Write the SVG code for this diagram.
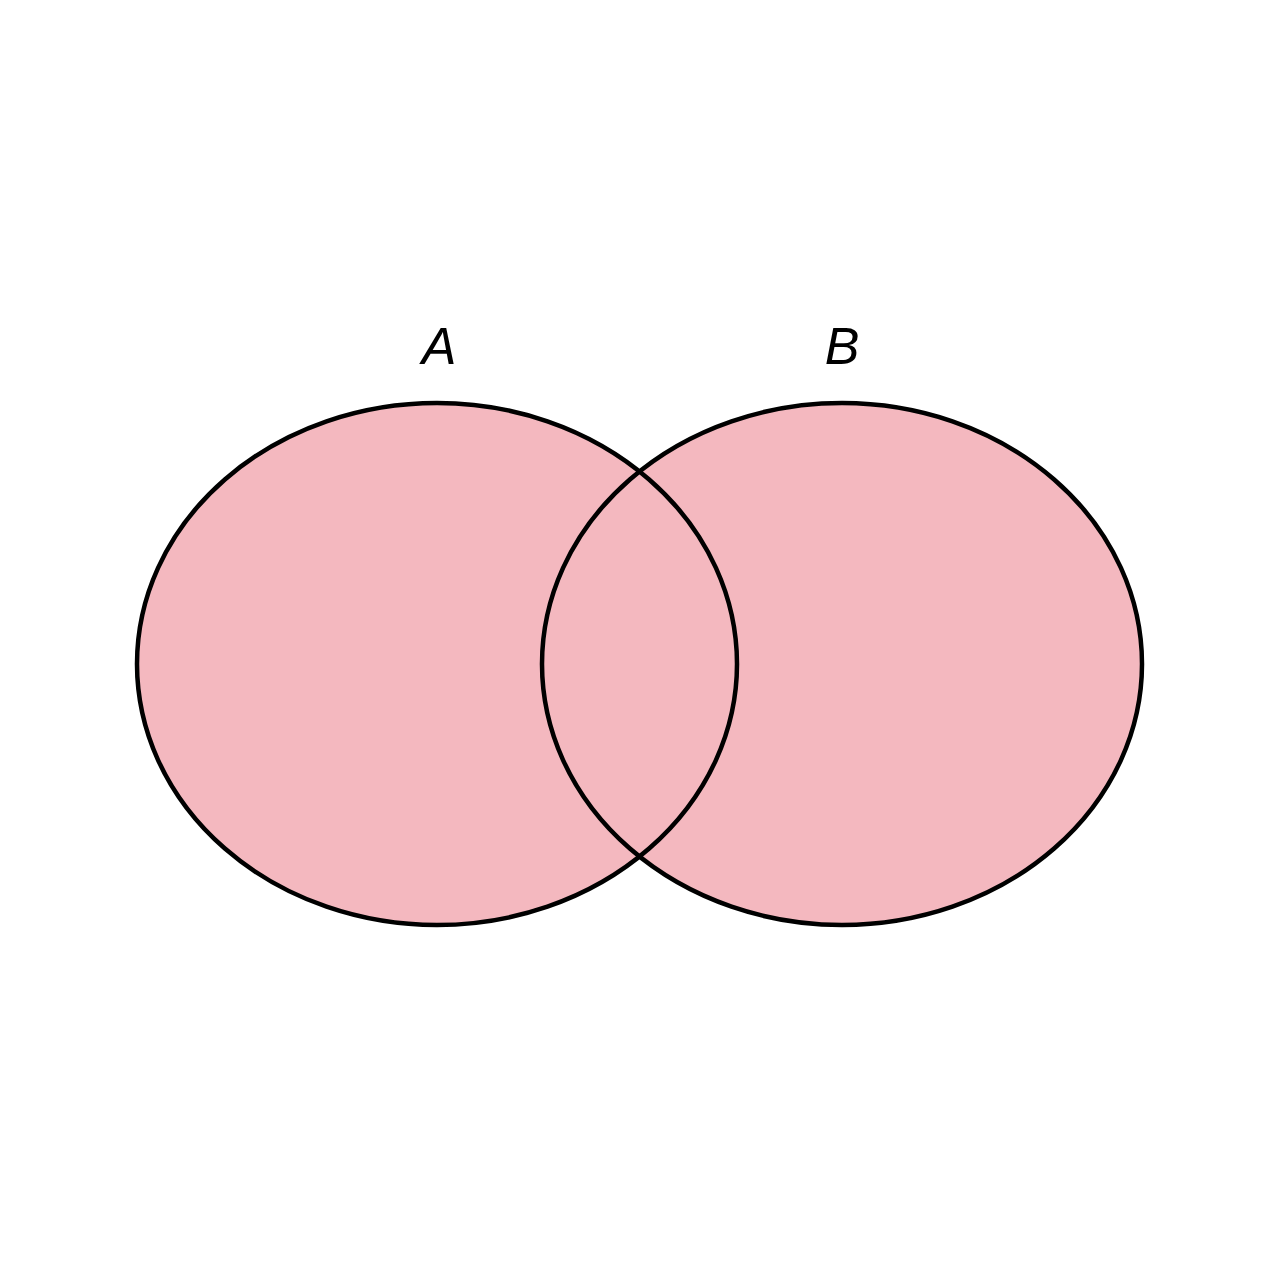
<svg xmlns="http://www.w3.org/2000/svg" width="1280" height="1280" viewBox="0 0 1280 1280">
<style>
.set{fill:#f4b8bf;stroke:none}
.edge{fill:none;stroke:#000;stroke-width:4.5}
.lbl{font-family:"Liberation Sans",Arial,sans-serif;font-style:italic;font-size:52px;fill:#000;text-anchor:middle}
</style>
<rect width="1280" height="1280" fill="#fff"/>
<g id="fills">
<ellipse class="set" cx="437" cy="664" rx="300" ry="261"/>
<ellipse class="set" cx="842" cy="664" rx="300" ry="261"/>
</g>
<g id="setA">
<ellipse class="edge" cx="437" cy="664" rx="300" ry="261"/>
<text class="lbl" x="439" y="364">A</text>
</g>
<g id="setB">
<ellipse class="edge" cx="842" cy="664" rx="300" ry="261"/>
<text class="lbl" x="842" y="364">B</text>
</g>
</svg>
